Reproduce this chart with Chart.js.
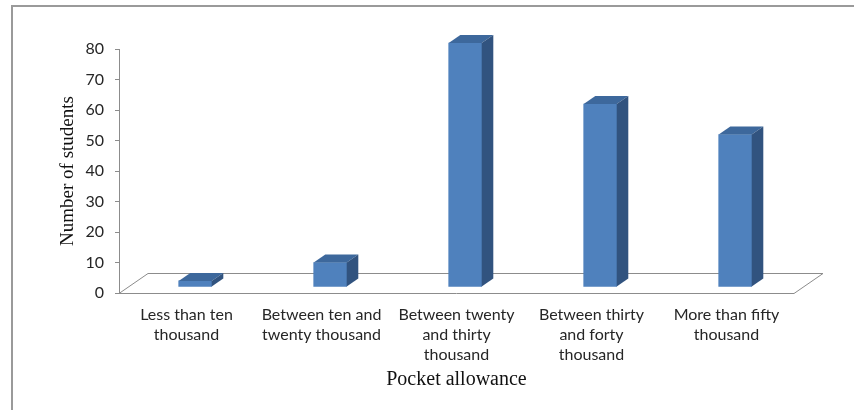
<!DOCTYPE html>
<html>
<head>
<meta charset="utf-8">
<script src="https://cdn.jsdelivr.net/npm/chart.js@4/dist/chart.umd.min.js"></script>
<style>
  html, body { margin: 0; padding: 0; background: #fff; }
  #wrap { width: 854px; height: 410px; }
</style>
</head>
<body>
<div id="wrap"><canvas id="chart" width="854" height="410"></canvas></div>
<script>
// Allowance bands (multi-line labels) and number of students in each band
const categories = [
  ["Less than ten", "thousand"],
  ["Between ten and", "twenty thousand"],
  ["Between twenty", "and thirty", "thousand"],
  ["Between thirty", "and forty", "thousand"],
  ["More than fifty", "thousand"]
];
const students = [2, 8, 80, 60, 50];

// Value axis range
const yMin = 0;
const yMax = 80;
const yStep = 10;

// Perspective of the floor and bar blocks
const FLOOR_DX = 29, FLOOR_DY = -20;
const BAR_FRONT = 0.3, BAR_BACK = 0.7;

const FRONT = '#4f81bd';
const TOP = '#3d689c';
const SIDE = '#31537f';
const LINE = '#8c8c8c';

const depth3d = {
  id: 'depth3d',
  beforeDraw(chart) {
    const { ctx } = chart;
    ctx.save();
    ctx.fillStyle = '#fff';
    ctx.fillRect(0, 0, chart.width, chart.height);
    ctx.strokeStyle = '#9a9a9a';
    ctx.lineWidth = 2;
    ctx.strokeRect(12, 6, chart.width + 20, chart.height + 20);
    ctx.restore();
  },
  beforeDatasetsDraw(chart) {
    const { ctx, chartArea: a } = chart;
    const y0 = chart.scales.y.getPixelForValue(0);
    ctx.save();
    ctx.strokeStyle = LINE;
    ctx.lineWidth = 1;
    ctx.fillStyle = '#fff';
    ctx.beginPath();
    ctx.moveTo(a.left, y0 + 0.5);
    ctx.lineTo(a.right, y0 + 0.5);
    ctx.lineTo(a.right + FLOOR_DX, y0 + 0.5 + FLOOR_DY);
    ctx.lineTo(a.left + FLOOR_DX, y0 + 0.5 + FLOOR_DY);
    ctx.closePath();
    ctx.fill();
    ctx.stroke();
    ctx.restore();
    // bars stand part-way into the floor depth
    ctx.save();
    ctx.translate(FLOOR_DX * BAR_FRONT, FLOOR_DY * BAR_FRONT);
  },
  afterDatasetsDraw(chart) {
    const { ctx } = chart;
    const ddx = FLOOR_DX * (BAR_BACK - BAR_FRONT);
    const ddy = FLOOR_DY * (BAR_BACK - BAR_FRONT);
    chart.getDatasetMeta(0).data.forEach(bar => {
      const { x, y, base, width } = bar.getProps(['x', 'y', 'base', 'width'], true);
      const l = x - width / 2, r = x + width / 2;
      ctx.fillStyle = TOP;
      ctx.beginPath();
      ctx.moveTo(l, y);
      ctx.lineTo(r, y);
      ctx.lineTo(r + ddx, y + ddy);
      ctx.lineTo(l + ddx, y + ddy);
      ctx.closePath();
      ctx.fill();
      ctx.fillStyle = SIDE;
      ctx.beginPath();
      ctx.moveTo(r, y);
      ctx.lineTo(r + ddx, y + ddy);
      ctx.lineTo(r + ddx, base + ddy);
      ctx.lineTo(r, base);
      ctx.closePath();
      ctx.fill();
    });
    ctx.restore();
  }
};

new Chart(document.getElementById('chart'), {
  type: 'bar',
  data: {
    labels: categories,
    datasets: [{
      data: students,
      backgroundColor: FRONT,
      borderWidth: 0,
      barThickness: 33,
      clip: false
    }]
  },
  options: {
    responsive: false,
    devicePixelRatio: 1,
    animation: false,
    layout: { padding: { left: 12, top: 49, right: 60, bottom: 0 } },
    plugins: { legend: { display: false }, tooltip: { enabled: false } },
    scales: {
      x: {
        grid: { display: false, drawTicks: false },
        border: { display: false },
        ticks: {
          color: '#262626',
          font: { family: 'Lato', size: 16, lineHeight: '20px' },
          padding: 12,
          maxRotation: 0,
          autoSkip: false
        },
        title: {
          display: true,
          text: 'Pocket allowance',
          color: '#111',
          font: { family: 'Liberation Serif', size: 20 },
          padding: { top: 0, bottom: 18 }
        },
        afterFit(s) { s.height = 117; }
      },
      y: {
        min: yMin,
        max: yMax,
        ticks: {
          stepSize: yStep,
          color: '#262626',
          font: { family: 'Lato', size: 16 },
          padding: 11
        },
        grid: { display: true, drawOnChartArea: false, drawTicks: true, tickLength: 4, color: LINE },
        border: { display: true, color: LINE, width: 1 },
        title: {
          display: true,
          text: 'Number of students',
          color: '#111',
          font: { family: 'Liberation Serif', size: 19 },
          padding: { top: 45, bottom: 0 }
        },
        afterFit(s) { s.width = 107; }
      }
    }
  },
  plugins: [depth3d]
});
</script>
</body>
</html>
